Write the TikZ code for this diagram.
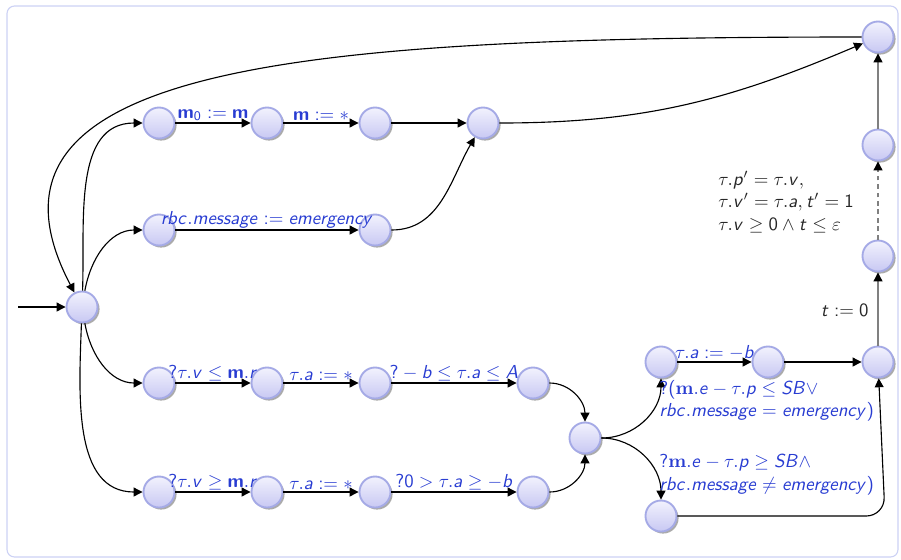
\documentclass[tikz,border=0pt]{standalone}
\usetikzlibrary{arrows.meta,shadows}
\DeclareSymbolFont{operators}{OT1}{cmss}{m}{n}
\DeclareSymbolFont{sfletters}{OT1}{cmss}{m}{sl}
\DeclareMathAlphabet{\mathbf}{OT1}{cmss}{bx}{n}
\DeclareMathAlphabet{\mathbfrm}{OT1}{cmr}{bx}{n}
\newcommand\sfml[1]{\DeclareMathSymbol{#1}{\mathalpha}{sfletters}{`#1}}
\sfml a\sfml b\sfml c\sfml d\sfml e\sfml f\sfml g\sfml h\sfml i\sfml j\sfml k\sfml l\sfml m
\sfml n\sfml o\sfml p\sfml q\sfml r\sfml s\sfml t\sfml u\sfml v\sfml w\sfml x\sfml y\sfml z
\sfml A\sfml B\sfml C\sfml D\sfml E\sfml S
\definecolor{lblue}{RGB}{40,60,210}
\definecolor{frameblue}{RGB}{205,210,245}
\definecolor{stborder}{RGB}{165,170,230}
\definecolor{sttop}{RGB}{242,242,253}
\definecolor{stbot}{RGB}{200,200,243}
\tikzset{
  st/.style={circle, minimum size=16.5pt, inner sep=0pt, line width=1pt, draw=stborder,
    top color=sttop, bottom color=stbot,
    drop shadow={shadow xshift=1.1pt, shadow yshift=-1.1pt, fill=black!60, opacity=0.55}},
  tr/.style={line width=0.6pt, -{Triangle[length=4.7pt,width=4.7pt]}},
  gtr/.style={line width=0.6pt, draw=gray, -{Triangle[length=4.7pt,width=4.7pt,color=black]}},
  lab/.style={text=lblue, inner sep=0.8pt, font=\normalsize},
  blab/.style={text=black!85, inner sep=0pt, align=left},
}
\begin{document}
\begin{tikzpicture}[x=0.532pt, y=0.532pt]
\useasboundingbox (0,0) rectangle (901,-559);
\draw[frameblue, line width=0.6pt, fill=white, rounded corners=4pt] (7,-6) rectangle (898,-557);
% states
\node[st] (init) at (82,-307) {};
\node[st] (a1) at (159,-123) {};
\node[st] (a2) at (267,-123) {};
\node[st] (a3) at (375,-123) {};
\node[st] (a4) at (483,-123) {};
\node[st] (b1) at (159,-230) {};
\node[st] (b2) at (375,-230) {};
\node[st] (c1) at (159,-383) {};
\node[st] (c2) at (267,-383) {};
\node[st] (c3) at (375,-383) {};
\node[st] (c4) at (533,-383) {};
\node[st] (d1) at (159,-492) {};
\node[st] (d2) at (267,-492) {};
\node[st] (d3) at (375,-492) {};
\node[st] (d4) at (533,-492) {};
\node[st] (mg) at (585,-438) {};
\node[st] (u1) at (661,-362) {};
\node[st] (u2) at (768,-362) {};
\node[st] (u3) at (878,-362) {};
\node[st] (l1) at (661,-516) {};
\node[st] (r2) at (878,-256) {};
\node[st] (r1) at (878,-145) {};
\node[st] (top) at (878,-37) {};
\coordinate (start) at (18,-307);
\coordinate (lc) at (885,-516);
% edges
\draw[tr] (start) -- (init);
\draw[tr] (init) to[out=88,in=180] (a1);
\draw[tr] (init) to[out=80,in=180] (b1);
\draw[tr] (init) to[out=-80,in=180] (c1);
\draw[tr] (init) to[out=-92,in=180] (d1);
\draw[tr] (top) .. controls (300,-37) and (-45,-65) .. (init);
\draw[tr] (a1) -- node[lab,above]{$\mathbf{m}_0 := \mathbf{m}$} (a2);
\draw[tr] (a2) -- node[lab,above]{$\mathbf{m} := *$} (a3);
\draw[tr] (a3) -- (a4);
\draw[tr] (a4) to[out=0,in=203] (top);
\draw[tr] (b1) -- node[lab,above]{$rbc.message := emergency$} (b2);
\draw[tr] (b2) to[out=0,in=240] (a4);
\draw[tr] (c1) -- node[lab,above]{$?\tau.v \le \mathbf{m}.r$} (c2);
\draw[tr] (c2) -- node[lab,above]{$\tau.a := *$} (c3);
\draw[tr] (c3) -- node[lab,above]{$? - b \le \tau.a \le A$} (c4);
\draw[tr] (c4) to[out=0,in=90] (mg);
\draw[tr] (d1) -- node[lab,above]{$?\tau.v \ge \mathbf{m}.r$} (d2);
\draw[tr] (d2) -- node[lab,above]{$\tau.a := *$} (d3);
\draw[tr] (d3) -- node[lab,above]{$?0 > \tau.a \ge -b$} (d4);
\draw[tr] (d4) to[out=0,in=-90] (mg);
\draw[tr] (mg) to[out=0,in=-90] (u1);
\draw[tr] (mg) to[out=0,in=90] (l1);
\draw[tr] (u1) -- node[lab,above]{$\tau.a := -b$} (u2);
\draw[tr] (u2) -- (u3);
\draw[tr, rounded corners=10pt] (l1) -- (lc) -- (u3);
\draw[gtr] (u3) -- (r2);
\draw[gtr, dash pattern=on 2.5pt off 2pt] (r2) -- (r1);
\draw[gtr] (r1) -- (top);
% guard labels
\node[lab, anchor=west, align=left, inner sep=0pt] (g1) at (659,-401)
  {$\mathbfrm{?(m}.e - \tau.p \le SB\vee$\\ $rbc.message = emergency)$};
\node[lab, anchor=west, align=left, inner sep=0pt] (g2) at (659,-475)
  {$\mathbfrm{?m}.e - \tau.p \ge SB\wedge$\\ $rbc.message \neq emergency)$};
\node[blab, anchor=east] (tl) at (869,-310) {$t := 0$};
\node[blab, anchor=west] (fl) at (718,-202)
  {$\tau.p' = \tau.v,$\\ $\tau.v' = \tau.a, t' = 1$\\ $\tau.v \ge 0 \wedge t \le \varepsilon$};
\end{tikzpicture}
\end{document}
